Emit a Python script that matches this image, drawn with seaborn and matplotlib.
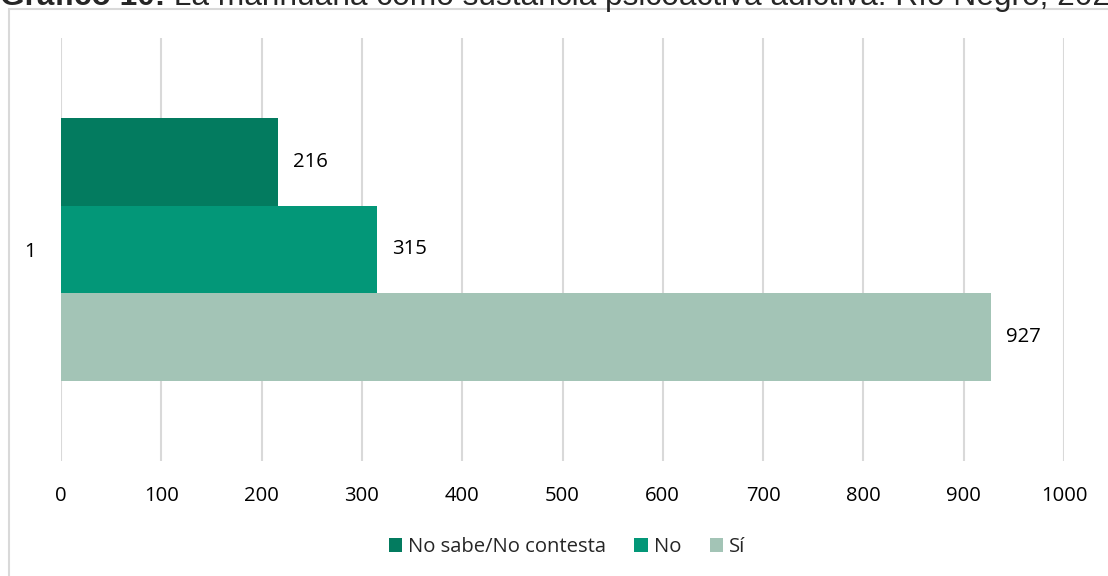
import matplotlib
matplotlib.use("Agg")
import matplotlib.pyplot as plt
from matplotlib.patches import Rectangle
import pandas as pd
import seaborn as sns

# datos del grafico
categorias = ["1", "1", "1"]
respuestas = ["No sabe/No contesta", "No", "Sí"]
valores = [216, 315, 927]
colores = ["#037B5F", "#039778", "#A3C4B6"]
ticks_x = [0, 100, 200, 300, 400, 500, 600, 700, 800, 900, 1000]
titulo_bold = "Gráfico 10:"
titulo = " La marihuana como sustancia psicoactiva adictiva. Río Negro, 2022"

df = pd.DataFrame({"categoria": categorias, "respuesta": respuestas, "valor": valores})

sns.set_style("white")
plt.rcParams["font.family"] = ["Open Sans", "DejaVu Sans"]

W, H = 1108, 576
fs = 14.6
fig = plt.figure(figsize=(W / 100, H / 100), dpi=100)
ax = fig.add_axes([61 / W, 1 - 461 / H, (1064 - 61) / W, (461 - 38) / H])

sns.barplot(data=df, x="valor", y="categoria", hue="respuesta",
            hue_order=respuestas, palette=colores, orient="h",
            width=0.622, saturation=1, linewidth=0, ax=ax)

for cont in ax.containers:
    ax.bar_label(cont, padding=11, fontsize=fs, color="#000000")

ax.set_xlim(0, 1000)
ax.set_ylim(0.5, -0.5)
ax.set_xticks(ticks_x)
ax.set_xlabel("")
ax.set_ylabel("")
ax.grid(axis="x", color="#D9D9D9", linewidth=1.5)
ax.set_axisbelow(True)
for s in ax.spines.values():
    s.set_visible(False)
ax.tick_params(axis="x", length=0, pad=18, labelsize=fs, colors="#000000")
ax.tick_params(axis="y", length=0, pad=18, labelsize=fs, colors="#000000")

handles, labels = ax.get_legend_handles_labels()
ax.legend(handles, labels, loc="center", bbox_to_anchor=(567 / W, 1 - 547 / H),
          bbox_transform=fig.transFigure, ncol=3, frameon=False, fontsize=fs,
          handlelength=0.65, handleheight=0.65, handletextpad=0.3,
          columnspacing=1.4)

# marco del grafico
fig.patches.append(Rectangle((9 / W, -0.1), 1.2, 1 - 9 / H + 0.1,
                             transform=fig.transFigure, fill=False,
                             edgecolor="#D9D9D9", linewidth=1.5))

# titulo recortado arriba
t1 = fig.text(0.0, 1 - 5 / H, titulo_bold, fontsize=22.8, fontweight="bold",
              family="Liberation Sans", va="baseline", ha="left")
fig.canvas.draw()
bb = t1.get_window_extent()
fig.text(bb.x1 / W, 1 - 5 / H, titulo, fontsize=22.8,
         family="Liberation Sans", va="baseline", ha="left")

fig.savefig("out.png", dpi=100)
